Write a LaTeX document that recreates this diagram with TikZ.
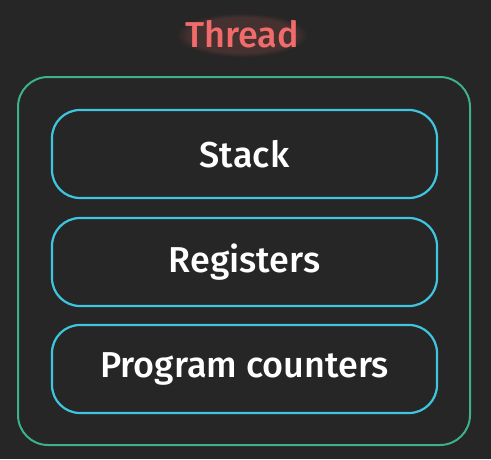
\documentclass[tikz,border=0pt]{standalone}
\usepackage{fontspec}
\setmainfont[UprightFont={* Medium}]{Fira Sans}
\usetikzlibrary{fadings}
\definecolor{bg}{HTML}{262626}
\definecolor{outerc}{HTML}{3DB08C}
\definecolor{innerc}{HTML}{3EC6E0}
\definecolor{redc}{HTML}{F26B6B}
\definecolor{textc}{HTML}{FFFFFF}
\begin{document}
\begin{tikzpicture}[x=1pt,y=-1pt,
  outerbox/.style={draw=outerc, line width=2pt, rounded corners=30pt},
  innerbox/.style={draw=innerc, line width=2.2pt, rounded corners=28pt, minimum width=385pt, minimum height=88pt, text=textc, font=\fontsize{36}{39}\selectfont},
]
\fill[bg] (0,0) rectangle (491,459);
\useasboundingbox (0,0) rectangle (491,459);
\draw[outerbox] (18,77) rectangle (470,445);
\node[innerbox] (stack) at (244.5,154) {Stack};
\node[innerbox] (regs) at (244.5,262) {Registers};
\node[innerbox] (pc) at (244.5,369) {Program counters};
\fill[redc, opacity=0.16, path fading=circle with fuzzy edge 20 percent] (242,35) ellipse [x radius=66pt, y radius=22pt];
\node[text=redc, font=\fontsize{36}{39}\selectfont] (thread) at (242,34) {Thread};
\end{tikzpicture}
\end{document}
